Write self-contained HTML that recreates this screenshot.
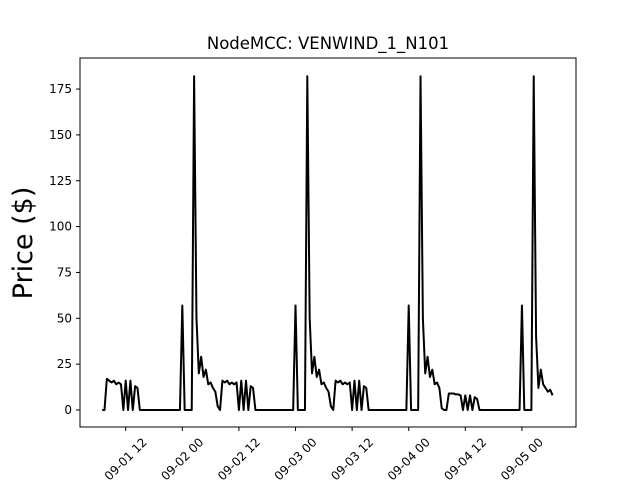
<!DOCTYPE html>
<html><head><meta charset="utf-8"><style>
html,body{margin:0;padding:0;background:#fff;}
svg{display:block;font-family:"DejaVu Sans","Liberation Sans",sans-serif;}
</style></head><body>
<svg id="chart" width="640" height="480">
<rect width="640" height="480" fill="#fff"/>
<text x="328" y="49" font-size="16.5" text-anchor="middle">NodeMCC: VENWIND_1_N101</text>
<text transform="translate(32,243) rotate(-90)" font-size="27" text-anchor="middle">Price ($)</text>
<g id="plot"></g>
<rect x="80" y="58" width="496" height="369" fill="none" stroke="#000" stroke-width="1"/>
</svg>
<script>
const startHour = 7; // 09-01 07:00, 30-min steps
const day1 = [0,0,17,16,15,16,14,15,14,0,16,0,16,0,13,12,0, 0,0,0,0,0,0,0,0,0,0,0,0,0,0,0,0,0];
const day2 = [57,0,0,0,0,182,50,20,29,18,22,14,15,12,10,2,0,16,15,16,14,15,14,15,0,16,0,16,0,13,12,0, 0,0,0,0,0,0,0,0,0,0,0,0,0,0,0,0];
const day3 = [57,0,0,0,0,182,50,20,29,18,22,14,15,12,10,2,0,16,15,16,14,15,14,15,0,16,0,16,0,13,12,0, 0,0,0,0,0,0,0,0,0,0,0,0,0,0,0,0];
const day4 = [57,0,0,0,0,182,50,20,29,18,22,14,15,12,1,0,0,9,9,9,8.5,8.5,8,0,8,0,8,0,7,6,0, 0,0,0,0,0,0,0,0,0,0,0,0,0,0,0,0,0];
const day5 = [57,0,0,0,0,182,40,12,22,14,12,10,11,8];
const yTicks = [0,25,50,75,100,125,150,175];
const xTickHours = [12,24,36,48,60,72,84,96];
const xTickLabels = ["09-01 12","09-02 00","09-02 12","09-03 00","09-03 12","09-04 00","09-04 12","09-05 00"];

const NS = "http://www.w3.org/2000/svg";
const xs = h => 69.1 + h * 4.717;
const ys = v => 410 - v * 1.834;
const svg = document.getElementById('chart');
const plot = document.getElementById('plot');

const values = day1.concat(day2, day3, day4, day5);
let pts = [];
values.forEach((v, i) => { pts.push(xs(startHour + i * 0.5).toFixed(2) + "," + ys(v).toFixed(2)); });
const line = document.createElementNS(NS, 'polyline');
line.setAttribute('points', pts.join(' '));
line.setAttribute('fill', 'none');
line.setAttribute('stroke', '#000');
line.setAttribute('stroke-width', '2');
line.setAttribute('stroke-linejoin', 'round');


plot.appendChild(line);

yTicks.forEach(t => {
  const y = ys(t);
  const tk = document.createElementNS(NS, 'line');
  tk.setAttribute('x1', 76); tk.setAttribute('x2', 80);
  tk.setAttribute('y1', y); tk.setAttribute('y2', y);
  tk.setAttribute('stroke', '#000');
  
  
  svg.appendChild(tk);
  const tx = document.createElementNS(NS, 'text');
  tx.setAttribute('x', 72); tx.setAttribute('y', y + 4);
  tx.setAttribute('font-size', '12'); tx.setAttribute('text-anchor', 'end');
  tx.textContent = t;
  
  
  svg.appendChild(tx);
});
xTickHours.forEach((h, i) => {
  const x = xs(h);
  const tk = document.createElementNS(NS, 'line');
  tk.setAttribute('x1', x); tk.setAttribute('x2', x);
  tk.setAttribute('y1', 427); tk.setAttribute('y2', 431);
  tk.setAttribute('stroke', '#000');
  
  
  svg.appendChild(tk);
  const tx = document.createElementNS(NS, 'text');
  tx.setAttribute('transform', 'translate(' + (x + 22) + ',443) rotate(-45)');
  tx.setAttribute('font-size', '12'); tx.setAttribute('text-anchor', 'end');
  tx.textContent = xTickLabels[i];
  
  
  svg.appendChild(tx);
});
</script>
</body></html>
